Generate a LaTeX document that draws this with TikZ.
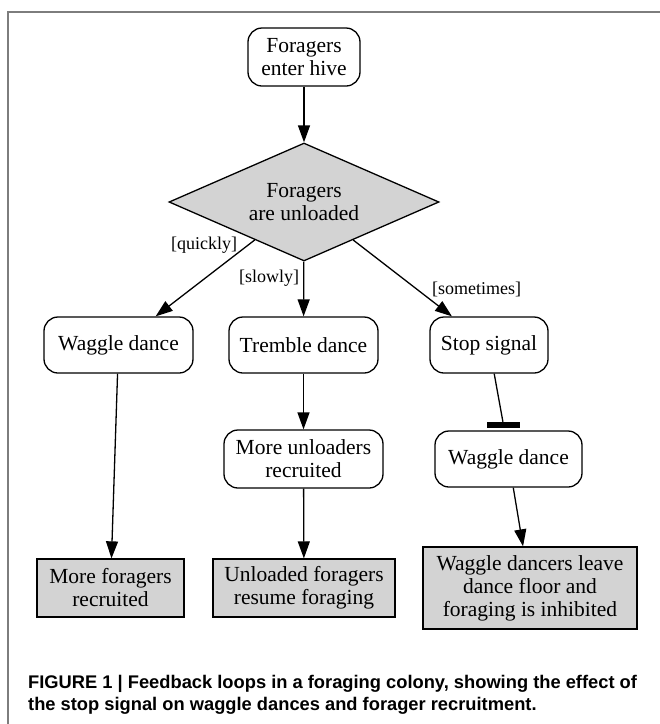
\documentclass[tikz,border=0pt]{standalone}
\usepackage{fontspec}
\setmainfont{Liberation Serif}
\newfontfamily\capfont{Liberation Sans}
\usetikzlibrary{shapes.geometric,arrows.meta}

\definecolor{boxgray}{RGB}{211,211,211}
\definecolor{framegray}{RGB}{125,125,125}
\newcommand{\nodefont}{\fontsize{21.5}{23}\selectfont}
\newcommand{\condfont}{\fontsize{18}{20}\selectfont}
\newcommand{\capsize}{\fontsize{18.3}{22}\selectfont}

\tikzstyle{state}=[draw,line width=1.3pt,rounded corners=14pt,fill=white,align=center,inner sep=0pt,font=\nodefont]
\tikzstyle{result}=[draw,line width=1.3pt,fill=boxgray,align=center,inner sep=0pt,font=\nodefont]
\tikzstyle{choice}=[draw,line width=1.3pt,diamond,aspect=2.3,fill=boxgray,align=center,inner sep=0pt,font=\nodefont]
\tikzstyle{flow}=[draw,line width=1.3pt,-{Triangle[length=17pt,width=12pt]}]
\tikzstyle{inhibit}=[draw,line width=1.3pt,-]
\tikzstyle{tee}=[fill=black,minimum width=33pt,minimum height=6pt,inner sep=0pt]
\tikzstyle{cond}=[font=\condfont,inner sep=2pt]

\begin{document}
\begin{tikzpicture}[x=1pt, y=-1pt]
    \useasboundingbox (0,0) rectangle (660,724);
    % the frame round the figure
    \draw[framegray, line width=2pt] (8,724) -- (8,12) -- (660,12);
    % First we draw the states
    \node[state, minimum width=112pt, minimum height=58pt] (enter) at (304,57) {Foragers\\enter hive};
    \node[choice, minimum width=270pt, minimum height=118pt] (unload) at (304,202) {Foragers\\are unloaded};
    \foreach \pos/\name/\txt/\w in {{(118.5,345)/wag/Waggle dance/149}, {(303.5,345)/trem/Tremble dance/149},
                                   {(489,345)/stop/Stop signal/118}, {(508.5,459)/wag2/Waggle dance/147}}
        \node[state, minimum width=\w pt, minimum height=56pt] (\name) at \pos {\txt};
    \node[state, minimum width=159pt, minimum height=58pt] (unl) at (303.5,459) {More unloaders\\recruited};
    % then the outcomes
    \node[result, minimum width=147pt, minimum height=58pt] (morefor) at (110.5,588) {More foragers\\recruited};
    \node[result, minimum width=182pt, minimum height=58pt] (resume) at (304,588) {Unloaded foragers\\resume foraging};
    \node[result, minimum width=214pt, minimum height=82pt] (leave) at (530,588) {Waggle dancers leave\\dance floor and\\foraging is inhibited};
    \node[tee] (bar) at (503.5,425) {}; % the stop signal blocks the dance
    % Connect states with edges and put the conditions on them
    \foreach \source/\dest in {enter/unload, wag/morefor, trem/unl, unl/resume, wag2/leave}
        \path[flow] (\source) -- (\dest);
    \path[flow] (unload) -- node[cond, pos=0.07, left=8pt] (quick) {[quickly]} (wag);
    \path[flow] (unload) -- node[cond, pos=0.3, left=2pt] (slow) {[slowly]} (trem);
    \path[flow] (unload) -- node[cond, pos=0.65, right=12pt] (some) {[sometimes]} (stop);
    \path[inhibit] (stop) -- (bar);
    % caption
    \node[anchor=north west, align=left, inner sep=0pt, font=\capfont\bfseries\capsize] (caption) at (28,675)
        {FIGURE 1 | Feedback loops in a foraging colony, showing the effect of\\the stop signal on waggle dances and forager recruitment.};
\end{tikzpicture}
\end{document}
